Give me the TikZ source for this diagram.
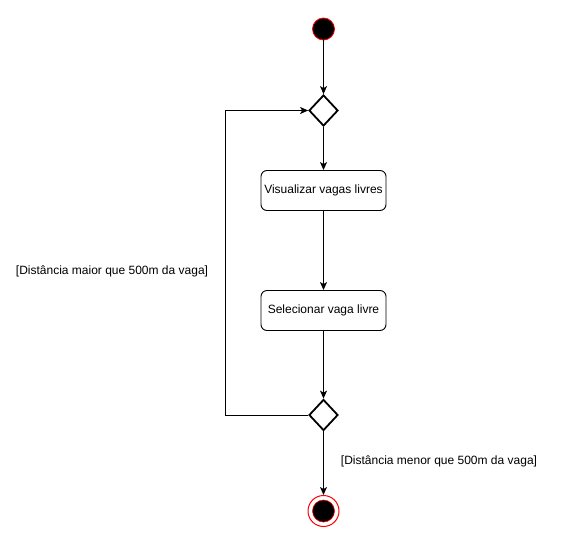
\documentclass[tikz,border=0pt]{standalone}
\usepackage{fontspec}
\setmainfont{Liberation Sans}
\usetikzlibrary{shapes.geometric,arrows.meta,positioning}
\definecolor{drred}{HTML}{FF0000}
\tikzset{
  conn/.style={draw=black, line width=1pt, -{Stealth[length=8pt,width=7pt,inset=2pt]}},
  act/.style={draw=black, line width=0.9pt, rounded corners=6pt, minimum width=125pt, minimum height=40pt, font=\fontsize{12}{14}\selectfont, inner sep=0pt},
  dec/.style={draw=black, line width=1.8pt, diamond, minimum width=29pt, minimum height=31pt, inner sep=0pt, aspect=0.93},
  lbl/.style={font=\fontsize{12}{14}\selectfont, inner sep=0pt}
}
\begin{document}
\begin{tikzpicture}[x=1pt,y=-1pt]
\useasboundingbox (0,0) rectangle (575,541);
\node[circle, fill=black, draw=drred, line width=0.8pt, minimum size=22pt, inner sep=0pt] (start) at (323.5,29) {};
\node[dec] (d1) at (323.5,110.5) {};
\node[act] (a1) at (323.5,190.5) {Visualizar vagas livres};
\node[act] (a2) at (323.5,310.5) {Selecionar vaga livre};
\node[dec] (d2) at (323.5,415) {};
\node[circle, draw=drred, line width=1pt, fill=white, minimum size=31pt, inner sep=0pt] (end) at (323.5,511) {};
\node[circle, fill=black, draw=drred, line width=0.6pt, minimum size=22pt, inner sep=0pt] (endin) at (end.center) {};
\coordinate (lb) at (225.5,415);
\coordinate (lt) at (225.5,110.5);
\draw[conn] (start) -- (d1);
\draw[conn] (d1) -- (a1);
\draw[conn] (a1) -- (a2);
\draw[conn] (a2) -- (d2);
\draw[conn] (d2) -- (end);
\draw[conn] (d2.west) -- (lb) -- (lt) -- (d1.west);
\node[lbl] (l1) at (112,271.5) {[Distância maior que 500m da vaga]};
\node[lbl] (l2) at (439,461.5) {[Distância menor que 500m da vaga]};
\end{tikzpicture}
\end{document}
